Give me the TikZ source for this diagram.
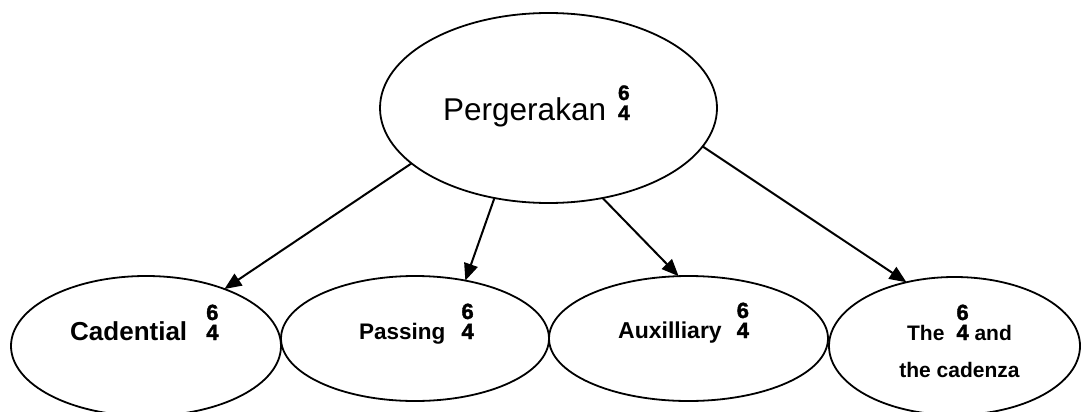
\documentclass[tikz,border=0pt]{standalone}
\usepackage{fontspec}
\setmainfont{Liberation Sans}
\newfontfamily\digfont[BoldFeatures={FakeBold=1.6}]{Liberation Sans}
\usetikzlibrary{shapes.geometric, arrows.meta, calc}

\newcommand{\sixfour}[1][22]{{\digfont\bfseries\fontsize{#1}{#1}\selectfont\rlap{\raisebox{20pt}{6}}4}}

\tikzset{
  oval/.style={ellipse, draw=black, line width=1.8pt, inner sep=0pt, outer sep=0pt},
  lbl/.style={inner sep=0pt, anchor=base west},
  arr/.style={-{Triangle[length=17pt,width=14pt]}, line width=2pt},
}

\begin{document}
\begin{tikzpicture}[x=1pt,y=-1pt]
    \useasboundingbox (0,0) rectangle (1081,412);
    \node[oval, minimum width=337pt, minimum height=190pt] (pg) at (548.5,108) {};
    \node[oval, minimum width=270pt, minimum height=140pt] (cad) at (146,346) {};
    \node[oval, minimum width=268pt, minimum height=125pt] (pas) at (415,338.5) {};
    \node[oval, minimum width=279pt, minimum height=125pt] (aux) at (688.5,338.5) {};
    \node[oval, minimum width=251pt, minimum height=138pt] (thec) at (954.5,346) {};
    
    \node[lbl, font=\fontsize{31.5}{31.5}\selectfont] (pgtxt) at ($(pg.center)+(-105.5,12)$) {Pergerakan\hspace{12pt}\sixfour[21]};
    \node[lbl, font=\bfseries\fontsize{26}{26}\selectfont] (cadtxt) at ($(cad.center)+(-76,-6)$) {Cadential\hspace{19pt}\sixfour};
    \node[lbl, font=\bfseries\fontsize{22.5}{22.5}\selectfont] (pastxt) at ($(pas.center)+(-56,0.5)$) {Passing\hspace{16pt}\sixfour};
    \node[lbl, font=\bfseries\fontsize{23}{23}\selectfont] (auxtxt) at ($(aux.center)+(-70.5,-0.5)$) {Auxilliary\hspace{15pt}\sixfour};
    \node[inner sep=0pt, anchor=base, align=center, font=\bfseries\fontsize{21}{37}\selectfont] (thectxt) at ($(thec.center)+(5,31)$) {The\hspace{12pt}\sixfour{} and\\the cadenza};
    
    \foreach \a/\b in {202.8/cad.36, 239.7/pas.49, 301.6/aux.99, 346.9/thec.127}
    {
        \draw[arr] (pg.\a) -- (\b);
    };
\end{tikzpicture}
\end{document}
